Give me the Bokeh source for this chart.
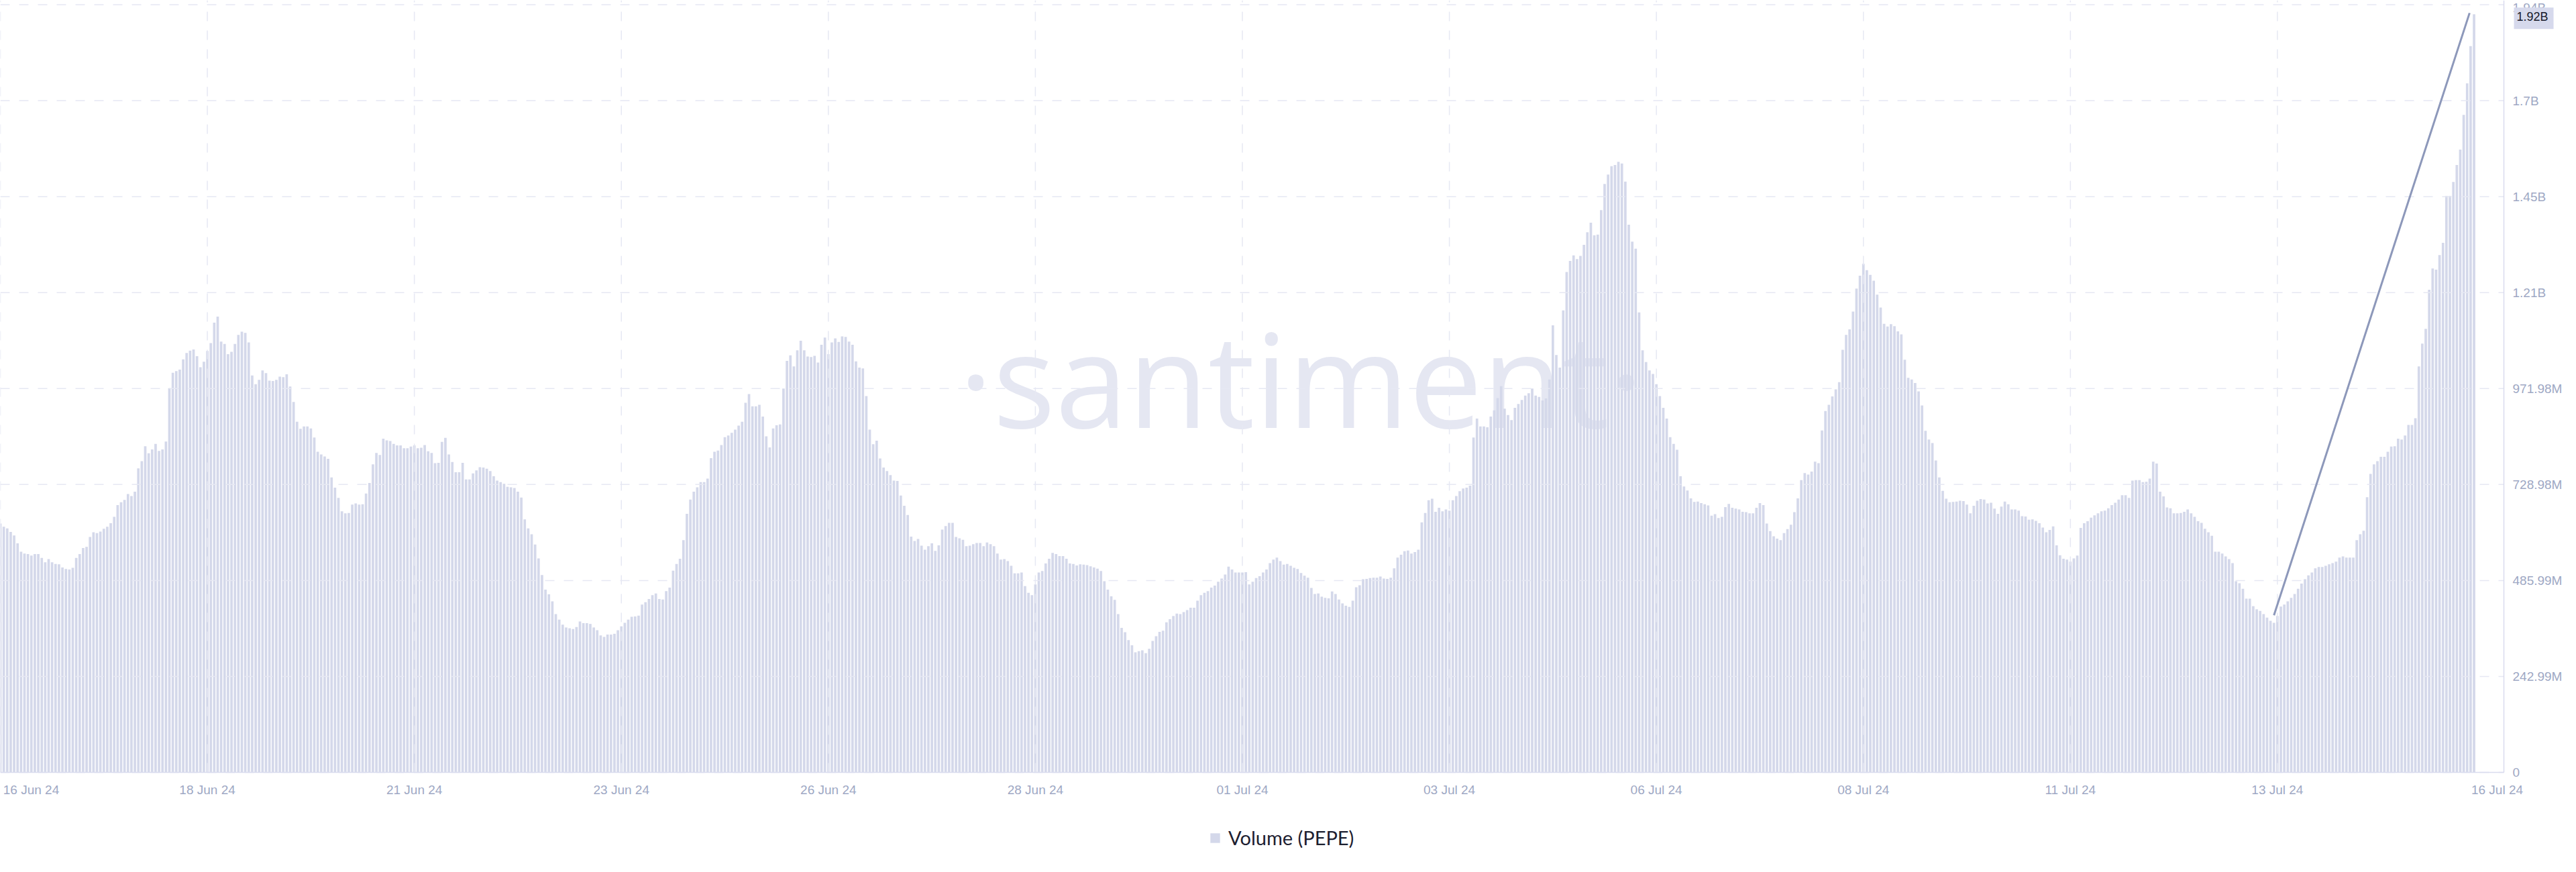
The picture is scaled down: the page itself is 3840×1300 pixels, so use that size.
from bokeh.plotting import figure
from bokeh.models import Range1d, FixedTicker, Label, Legend, LegendItem
from bokeh.embed import file_html
from bokeh.resources import INLINE

# ---------------- data (hourly volume, millions of PEPE units) ----------------
volume_m = [
    630, 622, 618, 609, 600, 580, 559, 554, 553, 549,
    553, 553, 543, 532, 540, 532, 528, 527, 519, 515,
    514, 518, 543, 553, 568, 571, 596, 608, 606, 610,
    617, 622, 631, 647, 677, 684, 690, 705, 700, 711,
    770, 788, 826, 808, 818, 832, 814, 818, 838, 973,
    1012, 1016, 1020, 1046, 1062, 1068, 1071, 1054, 1026, 1040,
    1067, 1087, 1139, 1154, 1091, 1085, 1059, 1065, 1085, 1108,
    1116, 1113, 1089, 1005, 983, 994, 1018, 1011, 992, 991,
    994, 1002, 1001, 1008, 977, 938, 888, 870, 876, 876,
    871, 848, 812, 805, 800, 794, 747, 721, 695, 661,
    656, 657, 678, 681, 678, 679, 706, 733, 780,
    809, 804, 845, 841, 839, 832, 828, 828, 821, 821,
    825, 828, 821, 822, 829, 813, 809, 783, 784, 837,
    847, 805, 786, 760, 760, 784, 742, 742, 757, 765,
    773, 772, 769, 763, 750, 739, 735, 731, 723, 722,
    720, 711, 696, 641, 618, 603, 577, 542, 500, 463,
    451, 433, 401, 387, 374, 367, 365, 363, 368, 382,
    378, 378, 376, 367, 360, 347, 343, 349, 349,
    351, 360, 370, 379, 387, 394, 395, 397, 425, 431,
    439, 449, 453, 439, 438, 459, 468, 511, 528, 541,
    588, 655, 691, 711, 722, 735, 735, 744, 796,
    812, 815, 829, 849, 853, 860, 868, 878, 888,
    936, 958, 927, 927, 931, 901, 851, 823, 871, 879,
    881, 972, 1042, 1056, 1028, 1069, 1093, 1069, 1053, 1052,
    1055, 1038, 1083, 1101, 1059, 1089, 1099, 1090, 1104, 1103,
    1091, 1083, 1041, 1025, 1023, 953, 868, 831, 840, 795,
    772, 763, 753, 739, 738, 701, 675, 652, 597,
    586, 591, 574, 564, 573, 580, 561, 575, 615, 624,
    632, 632, 596, 593, 589, 573, 574, 578, 581, 581,
    573, 582, 578, 573, 554, 539, 540, 535, 523, 504,
    504, 506, 472, 455, 449, 476, 506, 510, 529, 541,
    556, 553, 548, 548, 541, 529, 528, 524, 527, 526,
    525, 522, 519, 516, 510, 484, 463, 446, 437,
    401, 366, 355, 335, 322, 304, 307, 309, 302, 313,
    333, 345, 356, 359, 380, 388, 396, 402, 401,
    406, 411, 417, 417, 435, 449, 455, 459, 468, 473,
    483, 491, 501, 521, 514, 506, 506, 506, 507, 476,
    483, 492, 497, 506, 514, 530, 539, 544, 535, 526,
    528, 523, 518, 515, 505, 498, 493, 467, 452, 453,
    445, 442, 441, 458, 452, 438, 428, 422, 419, 435,
    469, 474, 489, 490, 492, 493, 493, 496, 491,
    490, 493, 517, 544, 551, 560, 562, 554, 558, 564,
    633, 657, 689, 693, 660, 670, 661, 666, 663, 689,
    700, 712, 719, 721, 726, 848, 896, 876,
    876, 874, 901, 917, 948, 978, 921, 905, 892, 923,
    933, 943, 954, 960, 972, 954, 951, 942, 947, 995,
    1132, 1057, 1025, 1170, 1267, 1295, 1309, 1300, 1308,
    1336, 1368, 1392, 1360, 1362, 1424, 1490, 1514, 1535, 1538,
    1546, 1542, 1496, 1387, 1344, 1326, 1165, 1069, 1039,
    1018, 1009, 983, 953, 923, 896, 849, 832, 817, 750,
    724, 714, 694, 685, 686, 682, 679, 676, 650, 654,
    644, 647, 672, 680, 670, 668, 666, 660, 659, 656,
    656, 670, 682, 677, 630, 611, 598, 592, 588, 606,
    616, 627, 659, 694, 740, 758, 754, 762, 787, 783,
    866, 915, 931, 952, 970, 988, 1070, 1108, 1122,
    1167, 1225, 1258, 1288, 1272, 1260, 1245, 1210, 1177, 1136,
    1129, 1135, 1130, 1117, 1109, 1045, 999, 995, 986, 965,
    929, 865, 843, 834, 790, 747, 713, 693, 684, 685,
    686, 688, 687, 678, 656, 675, 688, 692, 691, 681,
    683, 668, 655, 673, 686, 679, 666, 666, 663, 649,
    648, 640, 641, 637, 631, 620, 608, 614, 623, 575,
    550, 541, 539, 534, 542, 549, 619, 631, 636,
    645, 651, 656, 661, 663, 669, 677, 683, 691,
    702, 702, 695, 739, 740, 740, 735, 736, 744, 787,
    782, 711, 699, 671, 669, 656, 656, 657, 660, 666,
    656, 647, 636, 632, 617, 608, 599, 559,
    559, 554, 547, 540, 530, 484, 479, 465, 440, 440,
    421, 413, 409, 401, 392, 384, 379, 396, 420, 425,
    433, 442, 452, 465, 478, 489, 499, 506, 517, 520,
    520, 523, 527, 530, 534, 544, 547, 544, 544,
    544, 588, 603, 612, 697, 756, 780, 788, 799, 799,
    812, 825, 826, 845, 843, 853, 880, 880, 897,
    1028, 1086, 1123, 1222, 1276, 1273, 1310, 1341, 1460, 1460,
    1495, 1538, 1577, 1665, 1745, 1839, 1920,
]
volume = [v * 1e6 for v in volume_m]
hours = list(range(len(volume)))          # hours since 16 Jun 24 00:00

grid_hours = [0, 60, 120, 180, 240, 300, 360, 420, 480, 540, 600, 660]
# date labels (first and last are nudged inwards, as in the original chart)
x_label_hours = [8.94, 60, 120, 180, 240, 300, 360, 420, 480, 540, 600, 660, 723.7]
x_labels = ["16 Jun 24", "18 Jun 24", "21 Jun 24", "23 Jun 24", "26 Jun 24", "28 Jun 24",
            "01 Jul 24", "03 Jul 24", "06 Jul 24", "08 Jul 24", "11 Jul 24", "13 Jul 24",
            "16 Jul 24"]

y_tick_values = [k * 242_994_000 for k in range(9)]
y_tick_labels = ["0", "242.99M", "485.99M", "728.98M", "971.98M", "1.21B", "1.45B", "1.7B", "1.94B"]

trend_hours = [659, 715.7]
trend_values = [398e6, 1923e6]
last_value_label = "1.92B"
series_name = "Volume (PEPE)"
watermark = "\u00b7santiment\u00b7"

# ---------------- figure ----------------
PX_PER_HOUR = 5.143
FRAME_W, FRAME_H = 3824, 1284       # frame spans the whole canvas
DATA_W = 3732                       # width of the time-series area
BELOW_PX = 133                      # room under the series area (date labels, legend)
x_data_end = DATA_W / PX_PER_HOUR
x_end = FRAME_W / PX_PER_HOUR
y_end = 1.9551e9
units_per_px = y_end / (FRAME_H - BELOW_PX)
y_start = -BELOW_PX * units_per_px

BAR = "#d4d8ea"
GRID = "#e6e8f3"
AXIS_TXT = "#9ea8c4"
AXIS_LINE = "#d9dcee"
FONT = "Liberation Sans"

p = figure(frame_width=FRAME_W, frame_height=FRAME_H,
           x_range=Range1d(0, x_end), y_range=Range1d(y_start, y_end),
           output_backend="svg", toolbar_location=None, y_axis_location="right",
           min_border_left=0, min_border_top=0, min_border_right=0, min_border_bottom=0)
p.outline_line_color = None
p.background_fill_color = "white"
p.border_fill_color = "white"
p.xgrid.visible = False
p.ygrid.visible = False

# watermark under the bars
wm = Label(x=1939, y=589 + BELOW_PX, x_units="screen", y_units="screen", text=watermark,
           text_font="Open Sans", text_font_size="195px",
           text_color="#e5e7f2", text_align="center", text_baseline="alphabetic",
           level="underlay")
p.add_layout(wm)

bars = p.vbar(x=hours, top=volume, bottom=0, width=0.72, fill_color=BAR, line_color=None)

# dashed grid lines, limited to the time-series area
n = len(y_tick_values)
p.segment(x0=[0] * n, x1=[x_data_end] * n, y0=y_tick_values, y1=y_tick_values,
          line_color=GRID, line_width=1.5, line_dash="14 14")
m = len(grid_hours)
p.segment(x0=grid_hours, x1=grid_hours, y0=[0] * m, y1=[y_end] * m,
          line_color=GRID, line_width=1.5, line_dash="14 14")

# axis lines of the series area (bottom and right)
p.segment(x0=[0, x_data_end], x1=[x_data_end, x_data_end], y0=[0, 0], y1=[0, y_end],
          line_color=AXIS_LINE, line_width=1.5)

p.line(x=trend_hours, y=trend_values, line_color="#8d98ba", line_width=3)

# axes (labels pulled back next to the series area)
p.xaxis.ticker = FixedTicker(ticks=x_label_hours)
p.xaxis.major_label_overrides = dict(zip(x_label_hours, x_labels))
p.yaxis.ticker = FixedTicker(ticks=y_tick_values)
p.yaxis.major_label_overrides = dict(zip(y_tick_values, y_tick_labels))
for ax in (p.xaxis, p.yaxis):
    ax.axis_line_color = None
    ax.major_tick_line_color = None
    ax.minor_tick_line_color = None
    ax.major_tick_out = 0
    ax.major_tick_in = 0
    ax.minor_tick_out = 0
    ax.major_label_text_color = AXIS_TXT
    ax.major_label_text_font = FONT
    ax.major_label_text_font_size = "19px"
p.xaxis.major_label_standoff = 15 - BELOW_PX
p.yaxis.major_label_standoff = -79

# last-value badge
p.add_layout(Label(x=x_data_end, y=volume[-1], x_offset=15, y_offset=-6, text=last_value_label,
                   text_align="left", text_baseline="middle",
                   text_font=FONT, text_font_size="18px", text_color="#181a2a",
                   background_fill_color="#d6d9ec", padding=(4, 8, 4, 8)))

# legend under the series area
legend = Legend(items=[LegendItem(label=series_name, renderers=[bars])],
                location=(1802, 18), orientation="horizontal",
                padding=0, margin=0, border_line_color=None, background_fill_alpha=0,
                glyph_width=18, glyph_height=18, label_standoff=11,
                label_text_font="Lato", label_text_font_size="29px",
                label_text_color="#1d2030")
p.add_layout(legend)

open("out.html", "w").write(file_html(p, INLINE))
